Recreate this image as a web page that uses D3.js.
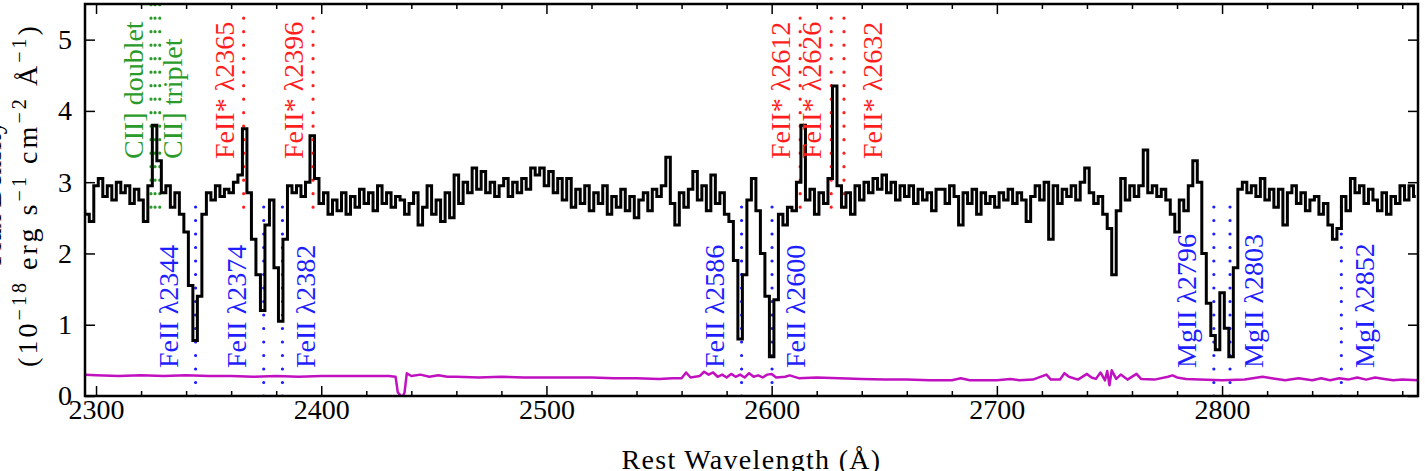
<!DOCTYPE html>
<html>
<head>
<meta charset="utf-8">
<script src="https://cdn.jsdelivr.net/npm/d3@7"></script>
<style>
  body { margin: 0; background: #fff; }
  svg { display: block; }
</style>
</head>
<body>
<div id="chart"></div>
<script>
//Spectrum, sampled every 2 A from 2294 A
var fluxStart = 2294, fluxStep = 2;
var flux = [
  2.60,
  2.55, 2.45, 2.95, 3.05, 2.80, 2.95, 2.75, 3.00, 2.85, 2.95,
  2.70, 2.90, 2.75, 2.45, 2.95, 3.80, 3.30, 2.85, 2.95, 2.65,
  2.85, 2.55, 2.30, 1.55, 0.78, 1.40, 2.55, 2.85, 2.75, 2.95,
  2.80, 2.90, 2.85, 3.00, 3.10, 3.75, 2.85, 2.20, 1.70, 1.20,
  2.40, 2.75, 1.80, 1.05, 2.20, 2.95, 2.85, 2.95, 2.80, 3.00,
  3.65, 3.05, 2.70, 2.85, 2.55, 2.75, 2.60, 2.85, 2.55, 2.80,
  2.65, 2.90, 2.70, 2.85, 2.60, 2.95, 2.70, 2.85, 2.65, 2.80,
  2.75, 2.55, 2.70, 2.85, 2.40, 2.65, 2.95, 2.55, 2.75, 2.45,
  2.85, 2.50, 3.10, 2.70, 3.00, 2.85, 3.20, 2.90, 3.15, 2.85,
  3.00, 2.80, 2.95, 3.05, 2.80, 3.00, 2.85, 3.05, 2.90, 3.20,
  3.10, 3.20, 2.95, 3.15, 2.85, 3.05, 2.75, 3.05, 2.65, 2.90,
  2.70, 2.95, 2.60, 2.85, 2.70, 2.95, 2.55, 2.80, 2.65, 2.90,
  2.60, 2.80, 2.50, 2.75, 2.85, 2.60, 2.90, 2.80, 2.95, 3.35,
  2.70, 2.40, 2.85, 2.65, 2.90, 3.15, 2.75, 2.95, 2.60, 3.10,
  2.70, 2.85, 2.55, 2.45, 1.90, 0.80, 1.70, 2.75, 3.05, 2.60,
  2.00, 1.40, 0.55, 1.35, 2.55, 2.40, 2.65, 2.60, 3.00, 3.80,
  2.75, 2.90, 2.55, 2.85, 2.70, 3.05, 4.35, 2.95, 2.65, 2.85,
  2.55, 2.95, 2.75, 3.00, 2.85, 3.05, 2.90, 3.10, 2.85, 3.00,
  2.75, 2.95, 2.80, 2.95, 2.70, 2.90, 2.75, 2.85, 2.60, 2.90,
  2.90, 2.70, 2.95, 2.80, 2.40, 2.85, 2.70, 2.90, 2.55, 2.85,
  2.70, 2.80, 2.65, 2.85, 2.75, 2.90, 2.70, 2.85, 2.75, 2.45,
  2.80, 2.95, 2.75, 3.00, 2.20, 2.95, 2.70, 2.90, 2.80, 2.95,
  2.75, 3.00, 3.20, 2.85, 2.70, 2.80, 2.55, 2.35, 1.70, 2.60,
  3.05, 2.75, 2.95, 2.80, 2.95, 3.45, 2.85, 2.95, 2.80, 2.90,
  2.75, 2.55, 2.30, 2.75, 2.60, 2.95, 3.30, 3.00, 2.00, 1.30,
  0.85, 0.65, 1.45, 0.95, 0.55, 1.80, 2.90, 3.00, 2.85, 2.95,
  2.80, 3.05, 2.75, 2.90, 2.65, 2.90, 2.40, 2.85, 2.95, 2.70,
  2.85, 2.60, 2.75, 2.80, 2.55, 2.70, 2.40, 2.20, 2.35, 2.80,
  2.60, 3.05, 2.85, 2.95, 2.70, 2.90, 2.75, 2.60, 2.85, 2.55,
  2.80, 2.70, 2.95, 2.75, 2.95, 2.80
];

//Error spectrum
var errWave = [
  2294, 2300, 2310, 2320, 2330, 2340, 2350, 2360, 2370, 2380, 2390, 2400, 2410, 2420, 2430,
  2433, 2434, 2436, 2437, 2438, 2440, 2444, 2448, 2452, 2456, 2460, 2470, 2480, 2490, 2500,
  2510, 2520, 2530, 2540, 2550, 2556, 2560, 2562, 2564, 2568, 2570, 2572, 2574, 2576, 2578,
  2580, 2582, 2584, 2586, 2588, 2590, 2592, 2594, 2596, 2598, 2600, 2602, 2606, 2608, 2612,
  2620, 2630, 2640, 2650, 2660, 2670, 2680, 2684, 2688, 2700, 2706, 2710, 2716, 2722, 2724,
  2728, 2730, 2732, 2736, 2740, 2742, 2744, 2746, 2748, 2749, 2750, 2751, 2753, 2755, 2758,
  2762, 2764, 2770, 2776, 2778, 2780, 2784, 2790, 2800, 2810, 2818, 2822, 2828, 2834, 2840,
  2844, 2848, 2852, 2856, 2860, 2864, 2868, 2872, 2876, 2880, 2888
];
var errFlux = [
  0.30, 0.29, 0.28, 0.29, 0.28, 0.29, 0.28, 0.28, 0.27, 0.28, 0.27, 0.28, 0.28, 0.28, 0.28,
  0.27, 0.05, -0.02, 0.05, 0.32, 0.28, 0.30, 0.27, 0.29, 0.27, 0.27, 0.26, 0.27, 0.26, 0.26,
  0.26, 0.26, 0.25, 0.25, 0.24, 0.25, 0.25, 0.33, 0.26, 0.28, 0.34, 0.30, 0.33, 0.27, 0.30,
  0.26, 0.31, 0.27, 0.30, 0.26, 0.32, 0.27, 0.29, 0.26, 0.30, 0.31, 0.26, 0.27, 0.29, 0.25,
  0.26, 0.25, 0.24, 0.23, 0.23, 0.22, 0.22, 0.25, 0.22, 0.22, 0.24, 0.22, 0.23, 0.30, 0.23,
  0.23, 0.32, 0.27, 0.23, 0.31, 0.26, 0.24, 0.33, 0.22, 0.35, 0.15, 0.36, 0.24, 0.30, 0.23,
  0.31, 0.24, 0.23, 0.27, 0.29, 0.26, 0.24, 0.23, 0.22, 0.23, 0.27, 0.25, 0.22, 0.25, 0.22,
  0.25, 0.22, 0.25, 0.23, 0.26, 0.23, 0.26, 0.24, 0.22, 0.23, 0.22
];

//Line identifications
var absLines = [
  {label: "FeII λ2344", wave: 2344.21, side: "left"},
  {label: "FeII λ2374", wave: 2374.46, side: "left"},
  {label: "FeII λ2382", wave: 2382.77, side: "right"},
  {label: "FeII λ2586", wave: 2586.65, side: "left"},
  {label: "FeII λ2600", wave: 2600.17, side: "right"},
  {label: "MgII λ2796", wave: 2796.35, side: "left"},
  {label: "MgII λ2803", wave: 2803.53, side: "right"},
  {label: "MgI λ2852", wave: 2852.96, side: "right"}
];
var emLines = [
  {label: "FeII* λ2365", wave: 2365.55, side: "left"},
  {label: "FeII* λ2396", wave: 2396.36, side: "left"},
  {label: "FeII* λ2612", wave: 2612.65, side: "left"},
  {label: "FeII* λ2626", wave: 2626.45, side: "left"},
  {label: "FeII* λ2632", wave: 2632.11, side: "right"}
];
var ciiLines = [
  {label: "CII] doublet", waves: [2324.4], side: "left"},
  {label: "CII] triplet", waves: [2326.2, 2328.3], side: "right"}
];

var xMajor = [2300, 2400, 2500, 2600, 2700, 2800];
var yMajor = [0, 1, 2, 3, 4, 5];

var W = 1425, H = 471;
var margin = {top: 4, right: 7, bottom: 75, left: 85};
var serif = "'Liberation Serif', 'DejaVu Serif', serif";

var svg = d3.select("#chart").append("svg")
  .attr("width", W)
  .attr("height", H)
  .style("font-family", serif);

var x = d3.scaleLinear().domain([2295.1, 2887]).range([margin.left, W - margin.right]);
var y = d3.scaleLinear().domain([0, 5.5]).range([H - margin.bottom, margin.top]);

var x0 = margin.left, x1 = W - margin.right, y0 = H - margin.bottom, y1 = margin.top;

svg.append("clipPath").attr("id", "clip")
  .append("rect")
  .attr("x", x0).attr("y", y1)
  .attr("width", x1 - x0).attr("height", y0 - y1);

var plot = svg.append("g").attr("clip-path", "url(#clip)");

//Dotted marker lines
var blue = "#1e1eff", red = "#ff1e1e", green = "#2a9a2a";

function dotted(g, wave, fa, fb, color) {
  g.append("line")
    .attr("x1", x(wave)).attr("x2", x(wave))
    .attr("y1", y(fa)).attr("y2", y(fb))
    .attr("stroke", color)
    .attr("stroke-width", 3.2)
    .attr("stroke-linecap", "round")
    .attr("stroke-dasharray", "0 13.5");
}

absLines.forEach(d => dotted(plot, d.wave, 0, 2.7, blue));
emLines.forEach(d => dotted(plot, d.wave, 2.65, 5.45, red));
ciiLines.forEach(d => d.waves.forEach(w => dotted(plot, w, 2.65, 5.5, green)));

//Error spectrum
var errData = errWave.map((w, i) => [w, errFlux[i]]);
plot.append("path")
  .datum(errData)
  .attr("fill", "none")
  .attr("stroke", "#c010c0")
  .attr("stroke-width", 2.5)
  .attr("stroke-linejoin", "round")
  .attr("d", d3.line().x(d => x(d[0])).y(d => y(d[1])));

//Flux spectrum
var specData = flux.map((f, i) => [fluxStart + i * fluxStep, f]);
plot.append("path")
  .datum(specData)
  .attr("fill", "none")
  .attr("stroke", "#000")
  .attr("stroke-width", 3)
  .attr("d", d3.line().curve(d3.curveStep).x(d => x(d[0])).y(d => y(d[1])));

//Labels
function addLabel(xb, yStart, text, color) {
  svg.append("text")
    .attr("transform", "translate(" + xb + "," + yStart + ") rotate(-90)")
    .attr("text-anchor", "start")
    .attr("fill", color)
    .style("font-size", "28px")
    .text(text);
}

absLines.forEach(d => {
  var xb = d.side === "left" ? x(d.wave) - 18 : x(d.wave) + 33;
  addLabel(xb, 368, d.label, blue);
});
emLines.forEach(d => {
  var xb = d.side === "left" ? x(d.wave) - 10 : x(d.wave) + 38;
  addLabel(xb, 159, d.label, red);
});
ciiLines.forEach(d => {
  var xb = d.side === "left" ? x(d.waves[0]) - 8 : x(d.waves[d.waves.length - 1]) + 22;
  addLabel(xb, 159, d.label, green);
});

//Axes
var minor = d3.range(2300, 2890, 20).filter(v => xMajor.indexOf(v) < 0);

svg.append("g")
  .attr("transform", "translate(0," + y0 + ")")
  .call(d3.axisBottom(x).tickValues(minor).tickSize(-5).tickFormat(""));
svg.append("g")
  .attr("transform", "translate(0," + y1 + ")")
  .call(d3.axisTop(x).tickValues(minor).tickSize(-5).tickFormat(""));

svg.append("g")
  .attr("transform", "translate(0," + y0 + ")")
  .call(d3.axisBottom(x).tickValues(xMajor).tickSize(-10).tickPadding(3).tickFormat(d3.format("d")));
svg.append("g")
  .attr("transform", "translate(0," + y1 + ")")
  .call(d3.axisTop(x).tickValues(xMajor).tickSize(-10).tickFormat(""));

svg.append("g")
  .attr("transform", "translate(" + x0 + ",0)")
  .call(d3.axisLeft(y).tickValues(yMajor).tickSize(-10).tickPadding(13).tickFormat(d3.format("d")));
svg.append("g")
  .attr("transform", "translate(" + x1 + ",0)")
  .call(d3.axisRight(y).tickValues(yMajor).tickSize(-10).tickFormat(""));

svg.selectAll(".domain").remove();
svg.selectAll(".tick line").attr("stroke", "#000").attr("stroke-width", 1.5);
svg.selectAll(".tick text")
  .attr("fill", "#000")
  .style("font-family", serif)
  .style("font-size", "28px");

//Frame
svg.append("rect")
  .attr("x", x0).attr("y", y1)
  .attr("width", x1 - x0).attr("height", y0 - y1)
  .attr("fill", "none")
  .attr("stroke", "#000")
  .attr("stroke-width", 2.5);

//Axis titles, stretched to the reference lengths
function stretch(sel, target) {
  var node = sel.node();
  var len = node.getComputedTextLength();
  var n = node.textContent.length;
  if (n > 1 && len < target) sel.style("letter-spacing", ((target - len) / n) + "px");
}

var xl = svg.append("text")
  .attr("x", (x0 + x1) / 2)
  .attr("y", 469)
  .attr("text-anchor", "middle")
  .style("font-size", "28px")
  .text("Rest Wavelength (Å)");
stretch(xl, 260);

svg.append("text")
  .attr("transform", "translate(1,193) rotate(-90)")
  .attr("text-anchor", "middle")
  .style("font-size", "28px")
  .text("Flux Density");

var yl = svg.append("text")
  .attr("transform", "translate(37,195) rotate(-90)")
  .attr("text-anchor", "middle")
  .style("font-size", "28px");
yl.append("tspan").text("(10");
yl.append("tspan").attr("dy", -11).style("font-size", "20px").text("−18");
yl.append("tspan").attr("dy", 11).text(" erg s");
yl.append("tspan").attr("dy", -11).style("font-size", "20px").text("−1");
yl.append("tspan").attr("dy", 11).text(" cm");
yl.append("tspan").attr("dy", -11).style("font-size", "20px").text("−2");
yl.append("tspan").attr("dy", 11).text(" Å");
yl.append("tspan").attr("dy", -11).style("font-size", "20px").text("−1");
yl.append("tspan").attr("dy", 11).text(")");
stretch(yl, 344);
</script>
</body>
</html>
